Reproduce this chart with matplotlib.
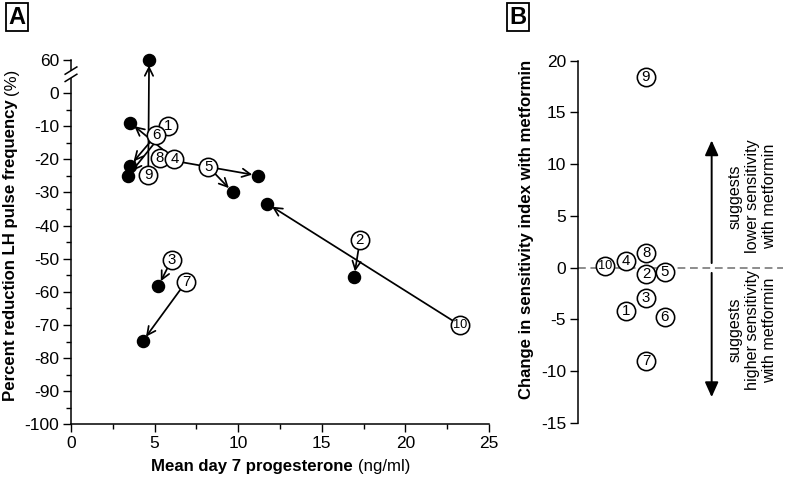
import numpy as np
import matplotlib
matplotlib.use('Agg')
import matplotlib.pyplot as plt
from matplotlib.transforms import blended_transform_factory

plt.rcParams['font.family'] = ['Liberation Sans', 'DejaVu Sans']
plt.rcParams['axes.unicode_minus'] = False

# ---------------- data ----------------
subjects = ['1', '2', '3', '4', '5', '6', '7', '8', '9', '10']
# panel A: baseline (open numbered circles) -> with metformin (filled dots)
prog_before = [5.82, 17.28, 6.02, 6.18, 8.21, 5.08, 6.88, 5.32, 4.62, 23.27]
lh_before = [-9.9, -44.5, -50.3, -19.9, -22.2, -12.7, -57.0, -19.7, -24.8, -70.1]
prog_after = [3.43, 16.93, 5.22, 3.53, 9.67, 3.53, 4.29, 11.17, 4.67, 11.74]
lh_after = [-24.9, -55.5, -58.3, -8.9, -29.9, -21.9, -74.9, -24.9, 60.0, -33.4]
# panel B
sens_change = [-4.16, -0.6, -2.9, 0.67, -0.38, -4.77, -9.0, 1.47, 18.4, 0.16]
b_xpos = [2.34, 3.32, 3.32, 2.34, 4.24, 4.24, 3.32, 3.32, 3.3, 1.32]

a_yticks = [-100, -90, -80, -70, -60, -50, -40, -30, -20, -10, 0, 60]
a_xticks = [0, 5, 10, 15, 20, 25]
b_yticks = [-15, -10, -5, 0, 5, 10, 15, 20]

BREAK_OFFSET = 50  # values above the axis break are shifted down by this


def to_axis(v):
    v = np.asarray(v, dtype=float)
    return np.where(v > 0, v - BREAK_OFFSET, v)


W, H = 792, 480
fig = plt.figure(figsize=(W / 100, H / 100), dpi=100)

TICK_FS = 12.5
LABEL_FS = 12.1
NUM_FS = 10.8

# ---------------- panel A ----------------
axA = fig.add_axes([71 / W, 1 - 424.3 / H, (489 - 71) / W, (424.3 - 60) / H])
axA.set_xlim(0, 25)
axA.set_ylim(-100, 10)
for s in ['top', 'right']:
    axA.spines[s].set_visible(False)
for s in ['left', 'bottom']:
    axA.spines[s].set_linewidth(1.1)
axA.set_xticks(a_xticks)
axA.set_xticks(np.arange(0, 25.1, 2.5), minor=True)
ypos = to_axis(a_yticks)
axA.set_yticks(ypos)
axA.set_yticklabels([str(t) for t in a_yticks])
axA.set_yticks(np.arange(-95, 0, 10), minor=True)
axA.tick_params(which='major', direction='out', length=5.5, width=1.0,
                labelsize=TICK_FS, pad=3)
axA.tick_params(which='minor', direction='out', length=3.5, width=1.0)

# axis break on the y axis
tr = blended_transform_factory(axA.transAxes, axA.transData)
axA.add_patch(plt.Rectangle((-0.012, 4.6), 0.024, 2.2, transform=tr,
                            facecolor='white', edgecolor='none',
                            clip_on=False, zorder=5))
for yb in (4.6, 6.8):
    axA.plot([-0.014, 0.014], [yb - 1.1, yb + 1.1], transform=tr,
             color='black', lw=1.1, clip_on=False, zorder=6)

xb = np.asarray(prog_before)
yb_ = to_axis(lh_before)
xa = np.asarray(prog_after)
ya = to_axis(lh_after)

# arrows
for i in range(len(subjects)):
    axA.annotate('', xy=(xa[i], ya[i]), xytext=(xb[i], yb_[i]),
                 arrowprops=dict(arrowstyle='->,head_length=0.5,head_width=0.25',
                                 color='black', lw=1.25,
                                 shrinkA=6.5, shrinkB=4.0,
                                 mutation_scale=12),
                 zorder=2)

# filled dots (with metformin)
axA.plot(xa, ya, 'o', color='black', ms=8.7, zorder=3, clip_on=False)

# numbered open circles (baseline)
draw_order = [0, 7, 1, 2, 3, 4, 5, 6, 8, 9]
for k, i in enumerate(draw_order):
    z = 4 + k * 0.1
    axA.plot(xb[i], yb_[i], 'o', mfc='white', mec='black', mew=1.15,
             ms=13.2, zorder=z, clip_on=False)
    axA.text(xb[i], yb_[i], subjects[i], ha='center', va='center',
             fontsize=NUM_FS if len(subjects[i]) == 1 else 9.2,
             zorder=z + 0.05)

# ---------------- panel B ----------------
axB = fig.add_axes([578 / W, 1 - 423 / H, 205 / W, (423 - 60.7) / H])
axB.set_xlim(0, 10)
axB.set_ylim(-15, 20)
for s in ['top', 'right', 'bottom']:
    axB.spines[s].set_visible(False)
axB.spines['left'].set_linewidth(1.1)
axB.set_xticks([])
axB.set_yticks(b_yticks)
axB.tick_params(which='major', direction='out', length=5.5, width=1.0,
                labelsize=TICK_FS, pad=3)

axB.axhline(0, color='#8c8c8c', lw=1.4, dashes=(4, 2.4), zorder=1)

for i in range(len(subjects)):
    axB.plot(b_xpos[i], sens_change[i], 'o', mfc='white', mec='black',
             mew=1.15, ms=13.2, zorder=4, clip_on=False)
    axB.text(b_xpos[i], sens_change[i], subjects[i], ha='center',
             va='center', fontsize=NUM_FS if len(subjects[i]) == 1 else 9.2,
             zorder=5)

arr_x = 6.52
axB.annotate('', xy=(arr_x, 12.3), xytext=(arr_x, 0.45),
             arrowprops=dict(arrowstyle='-|>,head_length=0.6,head_width=0.27',
                             color='black', lw=1.4, shrinkA=0, shrinkB=0,
                             mutation_scale=15))
axB.annotate('', xy=(arr_x, -12.5), xytext=(arr_x, -0.5),
             arrowprops=dict(arrowstyle='-|>,head_length=0.6,head_width=0.27',
                             color='black', lw=1.4, shrinkA=0, shrinkB=0,
                             mutation_scale=15))
axB.text(8.5, 6.9, 'suggests\nlower sensitivity\nwith metformin',
         rotation=90, ha='center', va='center', fontsize=11.6,
         linespacing=1.2, multialignment='center')
axB.text(8.5, -6.0, 'suggests\nhigher sensitivity\nwith metformin',
         rotation=90, ha='center', va='center', fontsize=11.6,
         linespacing=1.2, multialignment='center')


# ---------------- labels with mixed weights ----------------
def mixed_label(cx, cy, parts, rotation=0, fs=LABEL_FS):
    """parts: list of (text, weight); cx, cy in pixels from top-left."""
    renderer = fig.canvas.get_renderer()
    texts = []
    lengths = []
    for t, w in parts:
        tt = fig.text(0, 0, t, fontsize=fs, fontweight=w, rotation=rotation,
                      ha='center', va='center')
        bb = tt.get_window_extent(renderer)
        texts.append(tt)
        lengths.append(bb.height if rotation == 90 else bb.width)
    gap = fs * 0.28 * 100 / 72
    total = sum(lengths) + gap * (len(parts) - 1)
    start = -total / 2
    for tt, L in zip(texts, lengths):
        c = start + L / 2
        if rotation == 90:
            tt.set_position((cx / W, 1 - (cy - c) / H))
        else:
            tt.set_position(((cx + c) / W, 1 - cy / H))
        start += L + gap


fig.canvas.draw()
mixed_label(280.5, 466, [('Mean day 7 progesterone', 'bold'), ('(ng/ml)', 'normal')])
mixed_label(11, 235, [('Percent reduction LH pulse frequency', 'bold'), ('(%)', 'normal')],
            rotation=90)
mixed_label(526, 229, [('Change in sensitivity index with metformin', 'bold')],
            rotation=90)

# panel letters
for lab, px in (('A', 17), ('B', 518)):
    fig.text(px / W, 1 - 17 / H, lab, fontsize=17, fontweight='bold',
             ha='center', va='center',
             bbox=dict(boxstyle='square,pad=0.12', facecolor='white',
                       edgecolor='black', lw=1.3))

fig.savefig('out.png', dpi=100)
